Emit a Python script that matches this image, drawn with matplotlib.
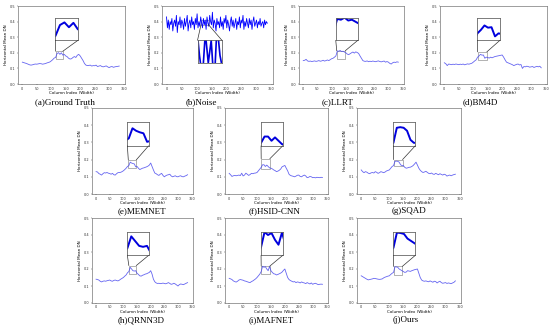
import matplotlib
matplotlib.use("Agg")
import matplotlib.pyplot as plt
from matplotlib.patches import Rectangle, ConnectionPatch

W, H = 550, 325

cols = list(range(0, 340, 5))
noise_cols = list(range(0, 339, 3))

gt = [0.140, 0.137, 0.134, 0.131, 0.127, 0.123, 0.121, 0.123, 0.126, 0.128,
      0.127, 0.129, 0.131, 0.130, 0.127, 0.129, 0.131, 0.135, 0.138, 0.141,
      0.148, 0.156, 0.166, 0.170, 0.195, 0.201, 0.190, 0.200, 0.185, 0.190,
      0.180, 0.175, 0.165, 0.160, 0.162, 0.170, 0.176, 0.170, 0.184, 0.190,
      0.180, 0.165, 0.150, 0.131, 0.121, 0.118, 0.119, 0.121, 0.115, 0.118,
      0.117, 0.121, 0.112, 0.115, 0.118, 0.112, 0.110, 0.113, 0.116, 0.110,
      0.105, 0.110, 0.112, 0.107, 0.110, 0.112, 0.113, 0.115]

noise = [0.43, 0.36, 0.41, 0.35, 0.40, 0.38, 0.42, 0.34, 0.39, 0.41,
         0.37, 0.44, 0.33, 0.40, 0.38, 0.43, 0.36, 0.41, 0.39, 0.35,
         0.42, 0.37, 0.40, 0.44, 0.34, 0.39, 0.41, 0.36, 0.43, 0.38,
         0.40, 0.35, 0.42, 0.38, 0.45, 0.36, 0.40, 0.37, 0.43, 0.39,
         0.36, 0.42, 0.38, 0.41, 0.35, 0.43, 0.39, 0.37, 0.44, 0.40,
         0.38, 0.46, 0.36, 0.41, 0.39, 0.34, 0.42, 0.38, 0.40, 0.36,
         0.43, 0.37, 0.40, 0.35, 0.42, 0.39, 0.44, 0.36, 0.41, 0.38,
         0.34, 0.40, 0.43, 0.37, 0.41, 0.36, 0.39, 0.42, 0.35, 0.40,
         0.38, 0.43, 0.36, 0.41, 0.39, 0.44, 0.35, 0.40, 0.37, 0.42,
         0.39, 0.36, 0.42, 0.38, 0.41, 0.35, 0.40, 0.43, 0.37, 0.39,
         0.41, 0.36, 0.40, 0.38, 0.42, 0.37, 0.39, 0.40, 0.36, 0.41,
         0.38, 0.40, 0.39]

llrt = [0.150, 0.152, 0.158, 0.148, 0.145, 0.147, 0.144, 0.146, 0.148, 0.145,
        0.147, 0.150, 0.146, 0.148, 0.152, 0.147, 0.150, 0.154, 0.150, 0.156,
        0.162, 0.165, 0.172, 0.180, 0.212, 0.210, 0.215, 0.208, 0.210, 0.205,
        0.200, 0.192, 0.188, 0.194, 0.200, 0.205, 0.198, 0.206, 0.202, 0.196,
        0.180, 0.165, 0.150, 0.146, 0.145, 0.148, 0.143, 0.146, 0.144, 0.147,
        0.145, 0.143, 0.146, 0.148, 0.144, 0.142, 0.145, 0.147, 0.140, 0.144,
        0.140, 0.132, 0.128, 0.136, 0.140, 0.138, 0.142, 0.140]

bm4d = [0.136, 0.130, 0.118, 0.128, 0.126, 0.124, 0.127, 0.125, 0.128, 0.126,
        0.124, 0.127, 0.125, 0.128, 0.123, 0.126, 0.129, 0.127, 0.130, 0.133,
        0.140, 0.148, 0.155, 0.172, 0.180, 0.190, 0.185, 0.186, 0.165, 0.172,
        0.170, 0.166, 0.172, 0.168, 0.172, 0.176, 0.178, 0.180, 0.182, 0.184,
        0.186, 0.172, 0.155, 0.140, 0.136, 0.132, 0.128, 0.124, 0.118, 0.122,
        0.126, 0.128, 0.122, 0.125, 0.100, 0.112, 0.110, 0.114, 0.112, 0.108,
        0.110, 0.112, 0.106, 0.110, 0.113, 0.110, 0.114, 0.104]

memnet = [0.130, 0.128, 0.119, 0.115, 0.110, 0.118, 0.124, 0.122, 0.125, 0.121,
          0.119, 0.115, 0.120, 0.112, 0.110, 0.118, 0.124, 0.125, 0.126, 0.130,
          0.135, 0.142, 0.150, 0.160, 0.165, 0.185, 0.180, 0.177, 0.175, 0.158,
          0.160, 0.150, 0.142, 0.146, 0.150, 0.152, 0.155, 0.158, 0.162, 0.168,
          0.180, 0.160, 0.140, 0.122, 0.118, 0.112, 0.108, 0.115, 0.120, 0.108,
          0.100, 0.106, 0.110, 0.112, 0.115, 0.105, 0.100, 0.103, 0.106, 0.101,
          0.100, 0.104, 0.106, 0.101, 0.100, 0.104, 0.107, 0.112]

hsid = [0.120, 0.112, 0.102, 0.106, 0.108, 0.106, 0.108, 0.110, 0.107, 0.121,
        0.105, 0.110, 0.121, 0.115, 0.108, 0.113, 0.120, 0.118, 0.121, 0.122,
        0.125, 0.135, 0.145, 0.155, 0.170, 0.170, 0.160, 0.168, 0.160, 0.152,
        0.150, 0.146, 0.140, 0.136, 0.130, 0.133, 0.138, 0.145, 0.158, 0.162,
        0.166, 0.150, 0.135, 0.115, 0.108, 0.105, 0.103, 0.100, 0.104, 0.109,
        0.110, 0.102, 0.100, 0.106, 0.110, 0.105, 0.095, 0.097, 0.102, 0.100,
        0.095, 0.096, 0.094, 0.097, 0.096, 0.095, 0.097, 0.096]

sqad = [0.140, 0.130, 0.124, 0.130, 0.127, 0.121, 0.118, 0.123, 0.125, 0.122,
        0.130, 0.126, 0.120, 0.124, 0.130, 0.127, 0.124, 0.128, 0.134, 0.137,
        0.140, 0.150, 0.160, 0.165, 0.190, 0.191, 0.190, 0.185, 0.170, 0.165,
        0.165, 0.155, 0.150, 0.152, 0.155, 0.156, 0.160, 0.166, 0.175, 0.185,
        0.168, 0.150, 0.138, 0.130, 0.125, 0.128, 0.132, 0.126, 0.120, 0.118,
        0.122, 0.116, 0.114, 0.120, 0.116, 0.112, 0.118, 0.114, 0.110, 0.115,
        0.112, 0.104, 0.108, 0.110, 0.106, 0.110, 0.113, 0.115]

qrnn = [0.140, 0.138, 0.135, 0.128, 0.124, 0.128, 0.130, 0.128, 0.131, 0.133,
        0.135, 0.130, 0.128, 0.133, 0.135, 0.132, 0.130, 0.134, 0.140, 0.145,
        0.150, 0.158, 0.165, 0.178, 0.185, 0.210, 0.200, 0.190, 0.188, 0.190,
        0.175, 0.168, 0.160, 0.158, 0.163, 0.166, 0.170, 0.172, 0.176, 0.180,
        0.190, 0.170, 0.140, 0.125, 0.118, 0.115, 0.116, 0.114, 0.115, 0.117,
        0.115, 0.113, 0.116, 0.120, 0.115, 0.110, 0.112, 0.116, 0.112, 0.106,
        0.100, 0.108, 0.112, 0.110, 0.108, 0.112, 0.116, 0.120]

mafnet = [0.145, 0.142, 0.138, 0.130, 0.126, 0.123, 0.128, 0.135, 0.138, 0.136,
          0.134, 0.130, 0.128, 0.125, 0.122, 0.120, 0.126, 0.130, 0.136, 0.142,
          0.150, 0.160, 0.170, 0.185, 0.216, 0.210, 0.214, 0.200, 0.190, 0.215,
          0.190, 0.180, 0.172, 0.170, 0.165, 0.168, 0.172, 0.176, 0.182, 0.192,
          0.200, 0.175, 0.150, 0.138, 0.132, 0.128, 0.124, 0.126, 0.120, 0.124,
          0.122, 0.118, 0.124, 0.120, 0.118, 0.114, 0.120, 0.116, 0.112, 0.118,
          0.110, 0.114, 0.116, 0.112, 0.108, 0.110, 0.111, 0.110]

ours = [0.160, 0.155, 0.150, 0.145, 0.140, 0.136, 0.138, 0.140, 0.142, 0.145,
        0.144, 0.142, 0.140, 0.139, 0.140, 0.142, 0.148, 0.152, 0.155, 0.158,
        0.160, 0.168, 0.175, 0.180, 0.213, 0.212, 0.210, 0.200, 0.195, 0.190,
        0.185, 0.180, 0.182, 0.190, 0.188, 0.186, 0.190, 0.193, 0.196, 0.198,
        0.200, 0.175, 0.150, 0.135, 0.130, 0.128, 0.130, 0.127, 0.125, 0.130,
        0.126, 0.122, 0.128, 0.126, 0.118, 0.124, 0.128, 0.120, 0.116, 0.118,
        0.120, 0.115, 0.118, 0.116, 0.114, 0.118, 0.122, 0.130]

labels = ["(a)Ground Truth", "(b)Noise", "(c)LLRT", "(d)BM4D", "(e)MEMNET",
          "(f)HSID-CNN", "(g)SQAD", "(h)QRNN3D", "(i)MAFNET", "(j)Ours"]

# panel layout in pixels: (left, right, top, bottom), label centre (x, y)
panels = [
    (gt, cols, (18, 125, 6, 84), (65, 102), (115, 140), (0.160, 0.210), False),
    (noise, noise_cols, (162, 273, 6, 84), (201, 102), (115, 140), (0.380, 0.410), True),
    (llrt, cols, (299, 404, 6, 84), (338, 102), (118, 148), (0.160, 0.213), False),
    (bm4d, cols, (440, 547, 6, 84), (480, 102), (115, 147), (0.156, 0.206), False),
    (memnet, cols, (92, 193, 108, 194), (142, 211), (118, 147), (0.150, 0.198), False),
    (hsid, cols, (225, 328, 108, 194), (275, 211), (115, 146), (0.148, 0.205), False),
    (sqad, cols, (357, 461, 108, 194), (409, 211), (115, 147), (0.160, 0.200), False),
    (qrnn, cols, (92, 193, 218, 303), (141, 320), (120, 147), (0.170, 0.220), False),
    (mafnet, cols, (225, 328, 218, 303), (271, 320), (115, 146), (0.168, 0.217), False),
    (ours, cols, (357, 461, 218, 303), (406, 320), (115, 146), (0.164, 0.215), False),
]

fig = plt.figure(figsize=(W / 100, H / 100), dpi=100)

for (vals, xs, (l, r, t, b), (lx, ly), zx, zy, below), lab in zip(panels, labels):
    ax = fig.add_axes([l / W, 1 - b / H, (r - l) / W, (b - t) / H])
    is_noise = vals is noise
    ax.plot(xs, vals, color="#0000ff" if is_noise else "#4a4aee",
            lw=0.6, alpha=1.0 if is_noise else 0.85)
    ax.set_xlim(-15, 355)
    ax.set_ylim(0.0, 0.5)
    ax.set_xticks(range(0, 351, 50))
    ax.set_yticks([0.0, 0.1, 0.2, 0.3, 0.4, 0.5])
    ax.tick_params(labelsize=2.5, length=1, width=0.3, pad=0.8, colors="#333333")
    ax.set_xlabel("Column Index (Width)", fontsize=3, labelpad=0.5)
    ax.set_ylabel("Horizontal Mean DN", fontsize=3, labelpad=1)
    for s in ax.spines.values():
        s.set_linewidth(0.4)
        s.set_color("#555555")

    # zoomed inset
    rect = [0.32, 0.27, 0.22, 0.29] if below else [0.35, 0.56, 0.21, 0.28]
    axins = ax.inset_axes(rect)
    axins.plot(xs, vals, color="#0000dd", lw=1.4 if not is_noise else 1.2)
    axins.set_xlim(*zx)
    axins.set_ylim(*zy)
    axins.set_xticks([])
    axins.set_yticks([])
    for s in axins.spines.values():
        s.set_linewidth(0.6)
        s.set_color("#666666")

    ax.add_patch(Rectangle((zx[0], zy[0]), zx[1] - zx[0], zy[1] - zy[0],
                           fill=False, ec="#777777", lw=0.4))
    if below:
        pairs = [((0, 1), (zx[0], zy[0])), ((1, 1), (zx[1], zy[0]))]
    else:
        pairs = [((0, 0), (zx[0], zy[1])), ((1, 0), (zx[1], zy[1]))]
    for a_pt, d_pt in pairs:
        con = ConnectionPatch(xyA=a_pt, coordsA=axins.transAxes,
                              xyB=d_pt, coordsB=ax.transData,
                              color="#333333", lw=0.5)
        fig.add_artist(con)

    fig.text(lx / W, 1 - ly / H, lab, ha="center", va="center",
             fontsize=6.5, family="Liberation Serif")

fig.savefig("out.png", dpi=100)
